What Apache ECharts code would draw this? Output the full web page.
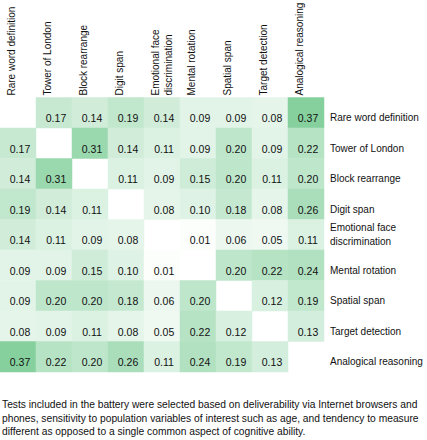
<!DOCTYPE html>
<html><head><meta charset="utf-8">
<script src="https://cdn.jsdelivr.net/npm/echarts@6/dist/echarts.min.js"></script>
<style>html,body{margin:0;padding:0;background:#fff;}#c{width:427px;height:440px;}</style>
</head><body><div id="c"></div>
<script>
const tests = ["Rare word definition","Tower of London","Block rearrange","Digit span","Emotional face\ndiscrimination","Mental rotation","Spatial span","Target detection","Analogical reasoning"];
const rareWord   = [null,0.17,0.14,0.19,0.14,0.09,0.09,0.08,0.37];
const towerLondon= [0.17,null,0.31,0.14,0.11,0.09,0.20,0.09,0.22];
const blockRear  = [0.14,0.31,null,0.11,0.09,0.15,0.20,0.11,0.20];
const digitSpan  = [0.19,0.14,0.11,null,0.08,0.10,0.18,0.08,0.26];
const emotFace   = [0.14,0.11,0.09,0.08,null,0.01,0.06,0.05,0.11];
const mentalRot  = [0.09,0.09,0.15,0.10,0.01,null,0.20,0.22,0.24];
const spatialSpan= [0.09,0.20,0.20,0.18,0.06,0.20,null,0.12,0.19];
const targetDet  = [0.08,0.09,0.11,0.08,0.05,0.22,0.12,null,0.13];
const analogReas = [0.37,0.22,0.20,0.26,0.11,0.24,0.19,0.13,null];
const rows = [rareWord,towerLondon,blockRear,digitSpan,emotFace,mentalRot,spatialSpan,targetDet,analogReas];
const caption = "Tests included in the battery were selected based on deliverability via Internet browsers and\nphones, sensitivity to population variables of interest such as age, and tendency to measure\ndifferent as opposed to a single common aspect of cognitive ability.";

const data = [];
rows.forEach((r, yi) => r.forEach((v, xi) => { if (v !== null) data.push([xi, yi, v]); }));

const font = "Liberation Sans";
const shiftedY = v => v.indexOf('\n') >= 0 ? v : '{e| }\n' + v;
const shiftedX = v => v.indexOf('\n') >= 0 ? v : v + '\n ';
const chart = echarts.init(document.getElementById('c'), null, {renderer: 'svg'});
chart.setOption({
  animation: false,
  textStyle: {fontFamily: font, fontSize: 10},
  grid: {left: 0, top: 97.5, width: 324, height: 274.5, containLabel: false, outerBoundsMode: 'none'},
  xAxis: {
    type: 'category', data: tests, position: 'top',
    axisLine: {show: false}, axisTick: {show: false}, splitLine: {show: false},
    axisLabel: {rotate: -90, margin: 2, fontSize: 10, color: '#111', fontFamily: font, interval: 0, lineHeight: 13,
      formatter: shiftedX}
  },
  yAxis: {
    type: 'category', data: tests, position: 'right', inverse: true,
    axisLine: {show: false}, axisTick: {show: false}, splitLine: {show: false},
    axisLabel: {margin: 6, fontSize: 10, color: '#111', fontFamily: font, interval: 0, lineHeight: 14,
      formatter: shiftedY, rich: {e: {fontSize: 10, lineHeight: 10}}}
  },
  visualMap: {show: false, min: 0, max: 0.37, dimension: 2, calculable: false, inRange: {color: ['#ffffff', '#86d09e']}},
  series: [{
    type: 'heatmap', data: data,
    label: {show: true, fontSize: 10.5, color: '#111', fontFamily: font, offset: [2, 5.5],
      textBorderWidth: 0, backgroundColor: 'transparent',
      formatter: p => p.value[2].toFixed(2)},
    itemStyle: {borderWidth: 0},
    emphasis: {disabled: true}
  }],
  graphic: [{
    type: 'text', left: 2, top: 398,
    style: {text: caption, fontFamily: font, fontSize: 10.25, fill: '#111', lineHeight: 13.5}
  }]
});
</script></body></html>
